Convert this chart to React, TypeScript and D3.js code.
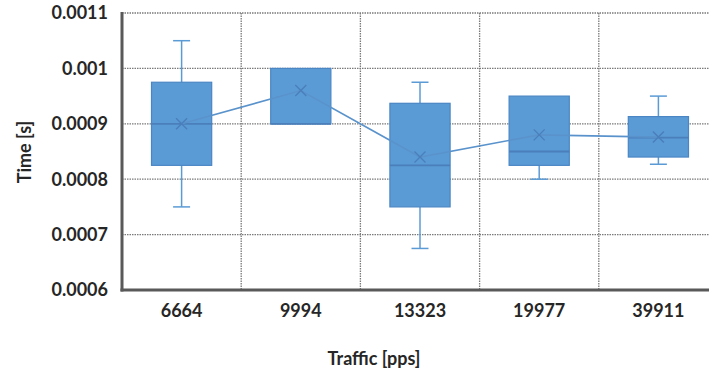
import React from "react";
import * as d3 from "d3";

const categories = ["6664", "9994", "13323", "19977", "39911"];
const whiskerMin = [0.00075, 0.0009, 0.000675, 0.0008, 0.000827];
const q1 = [0.000825, 0.0009, 0.00075, 0.000825, 0.00084];
const median = [0.0009, 0.0009, 0.000825, 0.00085, 0.000875];
const q3 = [0.000975, 0.001, 0.000937, 0.00095, 0.000913];
const whiskerMax = [0.00105, 0.001, 0.000975, 0.00095, 0.00095];
const means = [0.0009, 0.00096, 0.00084, 0.00088, 0.000876];
const yTicks = [0.0006, 0.0007, 0.0008, 0.0009, 0.001, 0.0011];
const yTickLabels = ["0.0006", "0.0007", "0.0008", "0.0009", "0.001", "0.0011"];

const W = 709, H = 370;
const L = 122, R = 718, T = 13, B = 290;
const FONT = "Lato, 'Open Sans', sans-serif";
const FS = 18;
const BLUE = "#5b9bd5";
const EDGE = "#4a86c4";

export default function App() {
  const x = d3.scaleBand<string>().domain(categories).range([L, R]).padding(0);
  const y = d3.scaleLinear().domain([0.0006, 0.0011]).range([B, T]);
  const bw = x.bandwidth() * 0.505;
  const cx = (c: string) => (x(c) as number) + x.bandwidth() / 2;
  const line = d3.line<number>().x((_, i) => cx(categories[i])).y((d) => y(d));

  return (
    <div style={{ position: "absolute", left: 0, top: 0 }}>
      <svg width={W} height={H} style={{ display: "block", background: "#fff" }}>
        {yTicks.map((t) => (
          <line key={"h" + t} x1={L} x2={R} y1={y(t)} y2={y(t)} stroke="#7a7a7a" strokeWidth={1.3} strokeDasharray="1.5,1" />
        ))}
        {categories.slice(1).map((c) => (
          <line key={"v" + c} x1={x(c)} x2={x(c)} y1={T} y2={B} stroke="#7a7a7a" strokeWidth={1.3} strokeDasharray="1.5,1" />
        ))}
        {categories.map((c, i) => {
          const xc = cx(c);
          return (
            <g key={c}>
              <line x1={xc} x2={xc} y1={y(whiskerMax[i])} y2={y(q3[i])} stroke={BLUE} strokeWidth={1.5} />
              <line x1={xc} x2={xc} y1={y(q1[i])} y2={y(whiskerMin[i])} stroke={BLUE} strokeWidth={1.5} />
              {whiskerMax[i] > q3[i] && (
                <line x1={xc - 8.5} x2={xc + 8.5} y1={y(whiskerMax[i])} y2={y(whiskerMax[i])} stroke={BLUE} strokeWidth={1.5} />
              )}
              {whiskerMin[i] < q1[i] && (
                <line x1={xc - 8.5} x2={xc + 8.5} y1={y(whiskerMin[i])} y2={y(whiskerMin[i])} stroke={BLUE} strokeWidth={1.5} />
              )}
              <rect x={xc - bw / 2} y={y(q3[i])} width={bw} height={y(q1[i]) - y(q3[i])} fill={BLUE} stroke={EDGE} strokeWidth={1.2} />
              <line x1={xc - bw / 2} x2={xc + bw / 2} y1={y(median[i])} y2={y(median[i])} stroke="#4a7fbb" strokeWidth={1.8} />
            </g>
          );
        })}
        <path d={line(means) || ""} fill="none" stroke="#5a93cc" strokeWidth={1.6} />
        {means.map((m, i) => {
          const xc = cx(categories[i]);
          const yc = y(m);
          const s = 5.5;
          return (
            <path key={"m" + i} d={`M${xc - s},${yc - s}L${xc + s},${yc + s}M${xc - s},${yc + s}L${xc + s},${yc - s}`} stroke="#4a7fbb" strokeWidth={1.4} fill="none" />
          );
        })}
        <line x1={L} x2={L} y1={T - 1} y2={B + 1.5} stroke="#595959" strokeWidth={3} />
        <line x1={L - 1.5} x2={R} y1={B} y2={B} stroke="#595959" strokeWidth={3} />
        {yTicks.map((t, i) => (
          <text key={"yl" + t} x={108} y={y(t)} dy="0.36em" textAnchor="end" fontFamily={FONT} fontWeight="bold" fontSize={FS} fill="#262626">
            {yTickLabels[i]}
          </text>
        ))}
        {categories.map((c) => (
          <text key={"xl" + c} x={cx(c)} y={317} textAnchor="middle" fontFamily={FONT} fontWeight="bold" fontSize={FS} fill="#262626">
            {c}
          </text>
        ))}
        <text x={374} y={365} textAnchor="middle" fontFamily={FONT} fontWeight="bold" fontSize={FS} fill="#262626">
          Traffic [pps]
        </text>
        <text transform="translate(31,152) rotate(-90)" textAnchor="middle" fontFamily={FONT} fontWeight="bold" fontSize={FS} fill="#262626">
          Time [s]
        </text>
      </svg>
    </div>
  );
}
